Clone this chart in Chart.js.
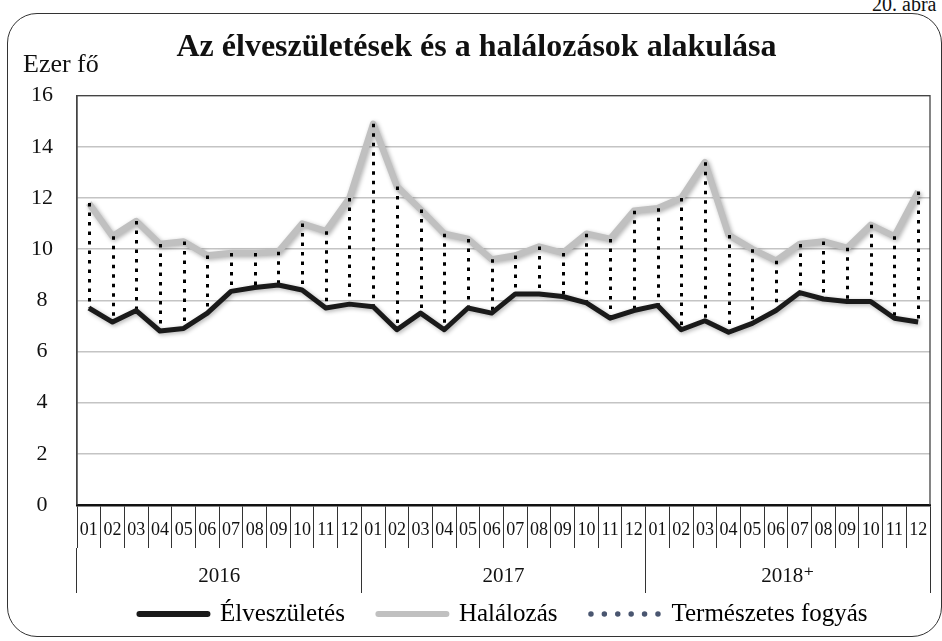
<!DOCTYPE html>
<html>
<head>
<meta charset="utf-8">
<script src="https://cdn.jsdelivr.net/npm/chart.js"></script>
<style>
  html, body { margin: 0; padding: 0; background: #fff; }
  #wrap { position: relative; width: 942px; height: 641px; overflow: hidden; }
  #frame { position: absolute; left: 7px; top: 13px; width: 935px; height: 624px; border: 1.5px solid #333; border-radius: 30px; box-sizing: border-box; }
  #abra { position: absolute; left: 872px; top: -7px; font: 20px "Liberation Serif", serif; color: #111; white-space: nowrap; }
  canvas { position: absolute; left: 0; top: 0; }
</style>
</head>
<body>
<div id="wrap">
  <div id="frame"></div>
  <div id="abra">20. ábra</div>
  <canvas id="chart" width="942" height="641"></canvas>
</div>
<script>
const months = ['01','02','03','04','05','06','07','08','09','10','11','12',
                '01','02','03','04','05','06','07','08','09','10','11','12',
                '01','02','03','04','05','06','07','08','09','10','11','12'];
const years = ['2016', '2017', '2018⁺'];

// ezer fő
const births = [7.7, 7.15, 7.6, 6.8, 6.9, 7.5, 8.35, 8.5, 8.6, 8.4, 7.7, 7.85,
                7.75, 6.85, 7.5, 6.85, 7.7, 7.5, 8.25, 8.25, 8.15, 7.9, 7.3, 7.6,
                7.8, 6.85, 7.2, 6.75, 7.1, 7.6, 8.3, 8.05, 7.95, 7.95, 7.3, 7.15];
const deaths = [11.8, 10.5, 11.1, 10.2, 10.3, 9.75, 9.85, 9.85, 9.9, 11.0, 10.7, 12.0,
                14.9, 12.45, 11.55, 10.6, 10.4, 9.6, 9.75, 10.1, 9.85, 10.6, 10.4, 11.5,
                11.6, 12.0, 13.4, 10.55, 10.0, 9.55, 10.2, 10.3, 10.05, 10.95, 10.5, 12.25];

const serif = '"Liberation Serif", "DejaVu Serif", serif';

// dotted high-low lines between births and deaths
const dropLines = {
  id: 'dropLines',
  afterDatasetDraw(chart, args) {
    if (args.index !== 2) return;
    const ctx = chart.ctx;
    ctx.save();
    ctx.strokeStyle = '#000';
    ctx.lineWidth = 3;
    ctx.setLineDash([3.5, 6]);
    args.meta.data.forEach(el => {
      const top = Math.min(el.y, el.base), bot = Math.max(el.y, el.base);
      const x = Math.round(el.x) + 0.5;
      ctx.beginPath();
      ctx.moveTo(x, top);
      ctx.lineTo(x, bot);
      ctx.stroke();
    });
    ctx.restore();
  }
};

const lineShadow = {
  id: 'lineShadow',
  beforeDatasetDraw(chart, args) {
    if (args.index > 1) return;
    const ctx = chart.ctx;
    ctx.save();
    ctx.shadowColor = 'rgba(0,0,0,0.3)';
    ctx.shadowBlur = 4;
    ctx.shadowOffsetX = 1.5;
    ctx.shadowOffsetY = 1.5;
  },
  afterDatasetDraw(chart, args) {
    if (args.index > 1) return;
    chart.ctx.restore();
  }
};

const plotFrame = {
  id: 'plotFrame',
  beforeDatasetsDraw(chart) {
    const { ctx, chartArea: a } = chart;
    ctx.save();
    ctx.strokeStyle = '#444';
    ctx.lineWidth = 1.3;
    ctx.beginPath();
    ctx.moveTo(a.left, a.bottom);
    ctx.lineTo(a.left, a.top);
    ctx.lineTo(a.right, a.top);
    ctx.lineTo(a.right, a.bottom);
    ctx.stroke();
    ctx.restore();
  }
};

new Chart(document.getElementById('chart'), {
  type: 'line',
  data: {
    labels: months,
    datasets: [
      { label: 'Élveszületés', data: births, borderColor: '#1a1a1a', borderWidth: 5, pointRadius: 0, tension: 0, borderJoinStyle: 'round', order: 0 },
      { label: 'Halálozás', data: deaths, borderColor: '#c0c0c0', borderWidth: 6.5, pointRadius: 0, tension: 0, borderJoinStyle: 'round', order: 2 },
      { type: 'bar', label: 'Természetes fogyás', data: births.map((b, i) => [b, deaths[i]]), backgroundColor: 'rgba(0,0,0,0)', borderWidth: 0, order: 1 }
    ]
  },
  options: {
    responsive: false,
    animation: false,
    events: [],
    devicePixelRatio: 1,
    layout: { padding: { left: 23, right: 12, top: 0, bottom: 4.5 } },
    plugins: {
      tooltip: { enabled: false },
      title: {
        display: true, text: 'Az élveszületések és a halálozások alakulása',
        color: '#111', font: { family: serif, size: 32, weight: 'bold' },
        padding: { top: 29, bottom: -18 }
      },
      subtitle: {
        display: true, text: 'Ezer fő', align: 'start',
        color: '#111', font: { family: serif, size: 26 },
        padding: { top: 0, bottom: 15 }
      },
      legend: {
        position: 'bottom', fullSize: false,
        labels: {
          usePointStyle: true, pointStyleWidth: 68, padding: 8.5,
          color: '#111', font: { family: serif, size: 25 },
          generateLabels: () => [
            { text: 'Élveszületés\u2003', pointStyle: 'line', strokeStyle: '#1a1a1a', fillStyle: '#1a1a1a', lineWidth: 6, lineCap: 'round', lineDash: [], datasetIndex: 0, hidden: false },
            { text: 'Halálozás\u2003', pointStyle: 'line', strokeStyle: '#c0c0c0', fillStyle: '#c0c0c0', lineWidth: 6, lineCap: 'round', lineDash: [], datasetIndex: 1, hidden: false },
            { text: 'Természetes fogyás', pointStyle: 'line', strokeStyle: '#4a5670', fillStyle: '#4a5670', lineWidth: 5.5, lineCap: 'round', lineDash: [0, 13.4], datasetIndex: 2, hidden: false }
          ]
        }
      }
    },
    scales: {
      y: {
        min: 0, max: 16,
        ticks: { stepSize: 2, padding: 24, crossAlign: 'center', color: '#111', font: { family: serif, size: 22 } },
        grid: { color: '#c4c4c4', lineWidth: 1.5, drawTicks: false },
        border: { display: true, color: '#444', width: 1.3 },
        afterFit: s => { s.width = 54; }
      },
      x: {
        offset: true,
        grid: { offset: true, drawOnChartArea: false, tickLength: 43, color: '#333', lineWidth: 1 },
        border: { display: true, color: '#111', width: 2.5 },
        ticks: { padding: -29, autoSkip: false, maxRotation: 0, color: '#111', font: { family: serif, size: 18 } },
        afterFit: s => { s.height = 43; }
      },
      x2: {
        type: 'category', labels: years, position: 'bottom', offset: true, weight: 1,
        grid: { offset: true, drawOnChartArea: false, tickLength: 45, color: '#333', lineWidth: 1 },
        border: { display: false },
        ticks: { padding: -29, autoSkip: false, maxRotation: 0, color: '#111', font: { family: serif, size: 21 } },
        afterFit: s => { s.height = 45; }
      }
    }
  },
  plugins: [dropLines, lineShadow, plotFrame]
});
</script>
</body>
</html>
